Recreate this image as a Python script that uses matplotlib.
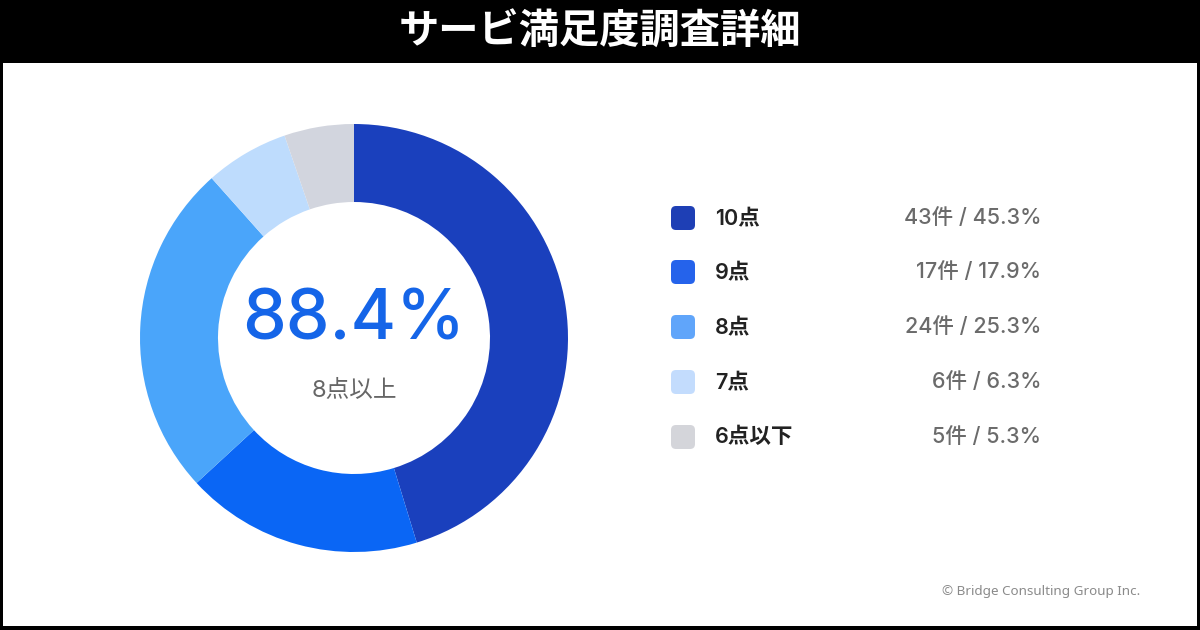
import matplotlib
matplotlib.use("Agg")
import matplotlib.pyplot as plt
from matplotlib.patches import Rectangle, FancyBboxPatch

plt.rcParams['font.family'] = ['Noto Sans CJK JP', 'DejaVu Sans']
latin_jp = ["Inter", "Noto Sans CJK JP", "DejaVu Sans"]

# データ
labels = ["10点", "9点", "8点", "7点", "6点以下"]
counts = [43, 17, 24, 6, 5]
percents = [45.3, 17.9, 25.3, 6.3, 5.3]
ring_colors = ["#1a40bd", "#0a66f5", "#4aa5fa", "#bedcfd", "#d2d5de"]
legend_colors = ["#1e3fb5", "#2563eb", "#60a5fa", "#c3dcfd", "#d4d5da"]
title = "サービ満足度調査詳細"
center_value = "88.4%"
center_label = "8点以上"
credit = "© Bridge Consulting Group Inc."

W, H = 1200, 630
fig = plt.figure(figsize=(W / 100, H / 100), dpi=100, facecolor="black")

# 背景とテキスト用の全面軸（ピクセル座標）
bg = fig.add_axes([0, 0, 1, 1])
bg.set_xlim(0, W)
bg.set_ylim(H, 0)
bg.axis("off")
bg.add_patch(Rectangle((3, 63), W - 6, H - 63 - 4, facecolor="white", edgecolor="none"))

bg.text(W / 2, 32, title, color="white", fontsize=29, fontweight="bold",
        ha="center", va="center")

# 凡例
row_y = [218, 272, 327, 382, 437]
for y, lab, c, p, col in zip(row_y, labels, counts, percents, legend_colors):
    bg.add_patch(FancyBboxPatch((671, y - 12), 24, 24,
                                boxstyle="round,pad=0,rounding_size=5",
                                facecolor=col, edgecolor="none"))
    bg.text(715, y, lab, color="#222222", fontsize=15.5, fontweight="semibold",
            family=latin_jp, ha="left", va="center")
    bg.text(1041, y, f"{c}件 / {p}%", color="#6b6b6b", fontsize=15.5,
            fontweight="medium", family=latin_jp, ha="right", va="center")

bg.text(1140, 592, credit, color="#8a8a8a", fontsize=9.7, family=["Noto Sans", "DejaVu Sans"],
        ha="right", va="center")

# ドーナツ
cx, cy, R = 354, 338, 214
ax = fig.add_axes([(cx - R) / W, (H - cy - R) / H, 2 * R / W, 2 * R / H])
ax.pie(counts, colors=ring_colors, startangle=90, counterclock=False,
       radius=1, wedgeprops=dict(width=78 / 214, edgecolor="none"))
ax.set_xlim(-1, 1)
ax.set_ylim(-1, 1)
ax.set_aspect("equal")
ax.axis("off")

bg.text(cx, 321, center_value, color="#1565e8", fontsize=50, fontweight="medium",
        family=["Inter", "DejaVu Sans"], ha="center", va="center")
bg.text(cx, 390, center_label, color="#666666", fontsize=17,
        family=latin_jp, ha="center", va="center")

fig.savefig("out.png", dpi=100, facecolor="black")
